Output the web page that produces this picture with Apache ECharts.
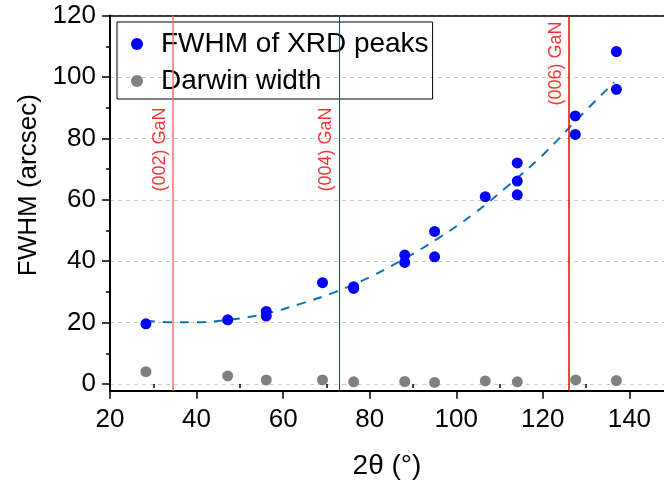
<!DOCTYPE html>
<html><head><meta charset="utf-8">
<script src="https://cdn.jsdelivr.net/npm/echarts@6/dist/echarts.min.js"></script>
<style>html,body{margin:0;padding:0;background:#fff}#c{width:664px;height:488px}</style>
</head><body><div id="c"></div>
<script>
// Data
const xrdTheta = [28.3, 47.2, 56.1, 56.1, 69.1, 76.3, 76.3, 88.1, 88.1, 95.0, 95.0, 106.7, 114.1, 114.1, 114.1, 127.5, 127.5, 137.0, 137.0];
const xrdFwhm  = [19.6, 20.9, 23.6, 22.1, 33.0, 31.7, 31.1, 42.0, 39.6, 49.7, 41.4, 61.0, 72.0, 66.1, 61.6, 87.3, 81.3, 108.3, 96.0];
const darwinTheta = [28.3, 47.2, 56.1, 69.1, 76.3, 88.1, 95.0, 106.7, 114.1, 127.6, 137.0];
const darwinWidth = [4.0, 2.6, 1.3, 1.3, 0.7, 0.8, 0.5, 1.0, 0.7, 1.3, 1.1];
const fitTheta = [28.3, 35, 40, 48, 56, 64, 72, 80, 88, 96, 104, 112, 120, 128, 136.5];
const fitFwhm  = [20.6, 20.1, 20.1, 21.0, 22.9, 26.1, 29.9, 34.8, 40.8, 47.6, 55.4, 64.6, 74.6, 86.3, 98.3];
const ganTheta = [34.57, 72.93, 126.1];
const ganLabels = ['(002) GaN', '(004) GaN', '(006) GaN'];
const xTicks = [20, 40, 60, 80, 100, 120, 140];
const xMinor = [30, 50, 70, 90, 110, 130];
const yTicks = [0, 20, 40, 60, 80, 100, 120];
const yMinor = [10, 30, 50, 70, 90, 110];
const seriesNames = ['FWHM of XRD peaks', 'Darwin width'];

const FONT = '"Liberation Sans", Arial, sans-serif';
const ganLineColors = ['#f47070', '#b80000', '#ff0000'];
const ganLineWidths = [1.5, 1, 1.5];
const ganLabelY = [76.4, 76.4, 104.4];

const chart = echarts.init(document.getElementById('c'), null, {renderer: 'canvas'});
const option = {
  animation: false,
  textStyle: {fontFamily: FONT},
  grid: {left: 110, top: 15.6, right: 0, bottom: 97.3},
  legend: {
    data: seriesNames, orient: 'vertical', left: 117, top: 22,
    borderColor: '#000', borderWidth: 1, padding: [8, 4, 4, 14], itemGap: 9,
    itemWidth: 12, itemHeight: 12, icon: 'circle',
    textStyle: {fontSize: 28, lineHeight: 27, color: '#000', fontFamily: FONT, padding: [0, 0, 0, 13]}
  },
  xAxis: [{
    type: 'value', min: 20, max: 148, interval: 20, position: 'bottom',
    name: '2θ (°)', nameLocation: 'middle', nameGap: 62,
    nameTextStyle: {fontSize: 28, color: '#000', fontFamily: FONT},
    axisLine: {show: true, onZero: false, lineStyle: {color: '#000', width: 2}},
    axisTick: {show: true, length: 8, lineStyle: {color: '#000', width: 1.5}, customValues: xTicks},
    axisLabel: {fontSize: 26, color: '#000', margin: 16, customValues: xTicks, fontFamily: FONT},
    splitLine: {show: false}
  }, {
    type: 'value', min: 20, max: 148, position: 'bottom', gridIndex: 0,
    axisLine: {show: false}, axisLabel: {show: false}, splitLine: {show: false},
    axisTick: {show: true, length: 4, lineStyle: {color: '#000', width: 1.5}, customValues: xMinor}
  }, {
    type: 'value', min: 20, max: 148, position: 'top', gridIndex: 0,
    axisLine: {show: true, onZero: false, lineStyle: {color: '#000', width: 1.5}},
    axisLabel: {show: false}, splitLine: {show: false}, axisTick: {show: false}
  }],
  yAxis: [{
    type: 'value', min: -2.2, max: 120, interval: 20, position: 'left',
    name: 'FWHM (arcsec)', nameLocation: 'middle', nameGap: 68,
    nameTextStyle: {fontSize: 26, color: '#000', fontFamily: FONT, padding: [0, 0, 0, 36]},
    axisLine: {show: true, onZero: false, lineStyle: {color: '#000', width: 2}},
    axisTick: {show: true, length: 8, lineStyle: {color: '#000', width: 1.5}, customValues: yTicks},
    axisLabel: {fontSize: 26, color: '#000', margin: 14, customValues: yTicks, fontFamily: FONT},
    splitLine: {show: true, lineStyle: {color: '#c8c8c8', type: [4, 4], width: 1}}
  }, {
    type: 'value', min: -2.2, max: 120, position: 'left', gridIndex: 0,
    axisLine: {show: false}, axisLabel: {show: false}, splitLine: {show: false},
    axisTick: {show: true, length: 4, lineStyle: {color: '#000', width: 1.5}, customValues: yMinor}
  }],
  series: [
    {
      type: 'line', name: 'fit', data: fitTheta.map((t, i) => [t, fitFwhm[i]]),
      showSymbol: false, symbol: 'none', smooth: 0.4, z: 2,
      lineStyle: {color: '#1170b4', width: 2, type: [9, 8]}
    },
    {
      type: 'scatter', name: 'GaN', z: 1,
      data: ganTheta.map((t, i) => [t, ganLabelY[i]]),
      symbolSize: 1, itemStyle: {color: 'rgba(0,0,0,0)'},
      label: {show: true, formatter: p => ganLabels[p.dataIndex], rotate: 90, position: 'inside', offset: [0, -13],
        color: '#ff0000', fontSize: 18, fontFamily: FONT},
      markLine: {
        silent: true, symbol: ['none', 'none'], label: {show: false},
        data: ganTheta.map((t, i) => ({xAxis: t, lineStyle: {color: ganLineColors[i], width: ganLineWidths[i], type: 'solid'}}))
      }
    },
    {
      type: 'scatter', name: seriesNames[0], z: 4,
      data: xrdTheta.map((t, i) => [t, xrdFwhm[i]]),
      symbolSize: 11, itemStyle: {color: '#0000ff', opacity: 1}
    },
    {
      type: 'scatter', name: seriesNames[1], z: 4,
      data: darwinTheta.map((t, i) => [t, darwinWidth[i]]),
      symbolSize: 11, itemStyle: {color: '#808080', opacity: 1}
    }
  ]
};
chart.setOption(option);
</script>
</body></html>
